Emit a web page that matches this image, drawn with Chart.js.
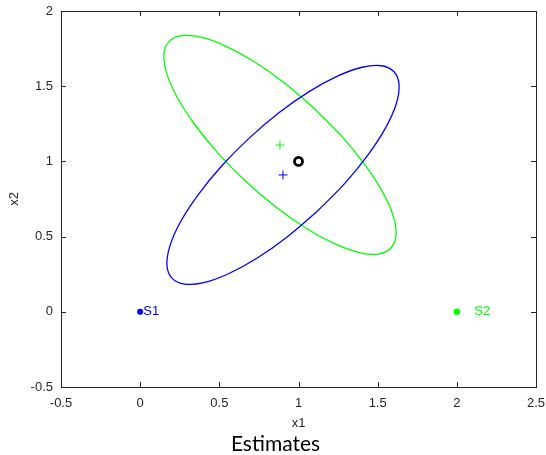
<!DOCTYPE html>
<html>
<head>
<meta charset="utf-8">
<script src="https://cdn.jsdelivr.net/npm/chart.js@4/dist/chart.umd.min.js"></script>
<style>
  body { margin: 0; background: #fff; }
</style>
</head>
<body>
<canvas id="estChart" width="546" height="455"></canvas>
<script>
// ellipse outlines
const blueX = [1.117, 0.928, 0.737, 0.558, 0.402, 0.280, 0.201, 0.169, 0.188, 0.254, 0.366, 0.513,
               0.687, 0.876, 1.067, 1.246, 1.402, 1.524, 1.603, 1.635, 1.617, 1.550, 1.438, 1.291, 1.117]
const blueY = [0.667, 0.498, 0.356, 0.253, 0.194, 0.184, 0.224, 0.310, 0.438, 0.597, 0.778, 0.968,
               1.153, 1.323, 1.464, 1.567, 1.626, 1.636, 1.596, 1.510, 1.382, 1.223, 1.042, 0.852, 0.667]
const greenX = [1.098, 0.909, 0.718, 0.539, 0.383, 0.261, 0.182, 0.150, 0.169, 0.235, 0.347, 0.494,
                0.668, 0.857, 1.048, 1.227, 1.383, 1.505, 1.584, 1.616, 1.598, 1.531, 1.419, 1.272, 1.098]
const greenY = [1.353, 1.523, 1.664, 1.767, 1.826, 1.836, 1.796, 1.710, 1.582, 1.423, 1.242, 1.052,
                0.867, 0.697, 0.556, 0.453, 0.394, 0.384, 0.424, 0.510, 0.638, 0.797, 0.978, 1.168, 1.353]

// estimates (+), true value (o), sensors
const blueEst = [0.902, 0.910]
const greenEst = [0.883, 1.109]
const truth = [1, 1]
const sensorNames = ["S1", "S2"]
const sensorX = [0, 2]
const sensorY = [0, 0]
const sensorLabelX = [0.02, 2.11]
const sensorColors = ["#0000ff", "#00ff00"]

const xTicks = [-0.5, 0, 0.5, 1, 1.5, 2, 2.5]
const yTicks = [-0.5, 0, 0.5, 1, 1.5, 2]

function pts(xs, ys) {
    return xs.map((x, i) => ({x: x, y: ys[i]}))
}

const frameColor = "#262626"
const labelFont = {family: "Liberation Sans", size: 13}

// box around the axes with ticks pointing inwards
const framePlugin = {
    id: "frame",
    afterDraw(chart) {
        const ctx = chart.ctx
        const a = chart.chartArea
        const sx = chart.scales.x
        const sy = chart.scales.y
        ctx.save()
        ctx.strokeStyle = frameColor
        ctx.lineWidth = 1
        ctx.strokeRect(a.left + 0.5, a.top + 0.5, a.right - a.left, a.bottom - a.top)
        ctx.beginPath()
        xTicks.forEach(v => {
            const px = Math.round(sx.getPixelForValue(v)) + 0.5
            ctx.moveTo(px, a.bottom); ctx.lineTo(px, a.bottom - 5)
            ctx.moveTo(px, a.top); ctx.lineTo(px, a.top + 5)
        })
        yTicks.forEach(v => {
            const py = Math.round(sy.getPixelForValue(v)) + 0.5
            ctx.moveTo(a.left, py); ctx.lineTo(a.left + 5, py)
            ctx.moveTo(a.right, py); ctx.lineTo(a.right - 5, py)
        })
        ctx.stroke()

        // sensor names
        ctx.font = "13px 'Liberation Sans'"
        ctx.textBaseline = "middle"
        ctx.textAlign = "left"
        sensorNames.forEach((name, i) => {
            ctx.fillStyle = sensorColors[i]
            ctx.fillText(name, sx.getPixelForValue(sensorLabelX[i]), sy.getPixelForValue(sensorY[i]))
        })
        ctx.restore()
    }
}

const chartArea = document.getElementById("estChart").getContext("2d")
const myChart = new Chart(chartArea, {
    type: "scatter",
    data: {
        datasets: [
            {
                data: pts(blueX, blueY),
                showLine: true,
                tension: 0.4,
                pointRadius: 0,
                borderColor: "#0000ff",
                borderWidth: 1.3
            },
            {
                data: pts(greenX, greenY),
                showLine: true,
                tension: 0.4,
                pointRadius: 0,
                borderColor: "#00ff00",
                borderWidth: 1.3
            },
            {
                data: [{x: blueEst[0], y: blueEst[1]}],
                pointStyle: "cross",
                pointRadius: 4.5,
                borderColor: "#0000ff",
                borderWidth: 1
            },
            {
                data: [{x: greenEst[0], y: greenEst[1]}],
                pointStyle: "cross",
                pointRadius: 4.5,
                borderColor: "#00ff00",
                borderWidth: 1
            },
            {
                data: [{x: truth[0], y: truth[1]}],
                pointStyle: "circle",
                pointRadius: 4,
                borderColor: "#000000",
                backgroundColor: "#ffffff",
                borderWidth: 2.8
            },
            {
                data: [{x: sensorX[0], y: sensorY[0]}],
                pointRadius: 3,
                borderWidth: 0,
                backgroundColor: sensorColors[0]
            },
            {
                data: [{x: sensorX[1], y: sensorY[1]}],
                pointRadius: 3.3,
                borderWidth: 0,
                backgroundColor: sensorColors[1]
            }
        ]
    },
    options: {
        responsive: false,
        animation: false,
        devicePixelRatio: 1,
        layout: {padding: {left: 5, right: 0, top: 11, bottom: 0}},
        plugins: {
            legend: {display: false},
            tooltip: {enabled: false},
            title: {
                display: true,
                position: "bottom",
                text: "Estimates",
                color: "#000000",
                font: {family: "Lato", size: 21, weight: "normal", lineHeight: 1},
                padding: {top: 3, bottom: 0}
            }
        },
        scales: {
            x: {
                type: "linear",
                min: -0.5,
                max: 2.5,
                afterBuildTicks(scale) { scale.ticks = xTicks.map(v => ({value: v})) },
                afterFit(scale) {
                    scale.height = 44
                    scale.paddingLeft = 0
                    scale.paddingRight = 10
                },
                grid: {display: false, tickLength: 0},
                border: {display: false},
                ticks: {
                    color: frameColor,
                    font: labelFont,
                    padding: 9,
                    maxRotation: 0,
                    callback: v => String(v)
                },
                title: {
                    display: true,
                    text: "x1",
                    color: frameColor,
                    font: labelFont,
                    padding: {top: 0, bottom: 0}
                }
            },
            y: {
                type: "linear",
                min: -0.5,
                max: 2,
                afterBuildTicks(scale) { scale.ticks = yTicks.map(v => ({value: v})) },
                afterFit(scale) {
                    scale.width = 56
                    scale.paddingTop = 0
                    scale.paddingBottom = 0
                },
                grid: {display: false, tickLength: 0},
                border: {display: false},
                ticks: {
                    color: frameColor,
                    font: labelFont,
                    padding: 8,
                    callback: v => String(v)
                },
                title: {
                    display: true,
                    text: "x2",
                    color: frameColor,
                    font: labelFont,
                    padding: {top: 2, bottom: 0}
                }
            }
        }
    },
    plugins: [framePlugin]
})
</script>
</body>
</html>
